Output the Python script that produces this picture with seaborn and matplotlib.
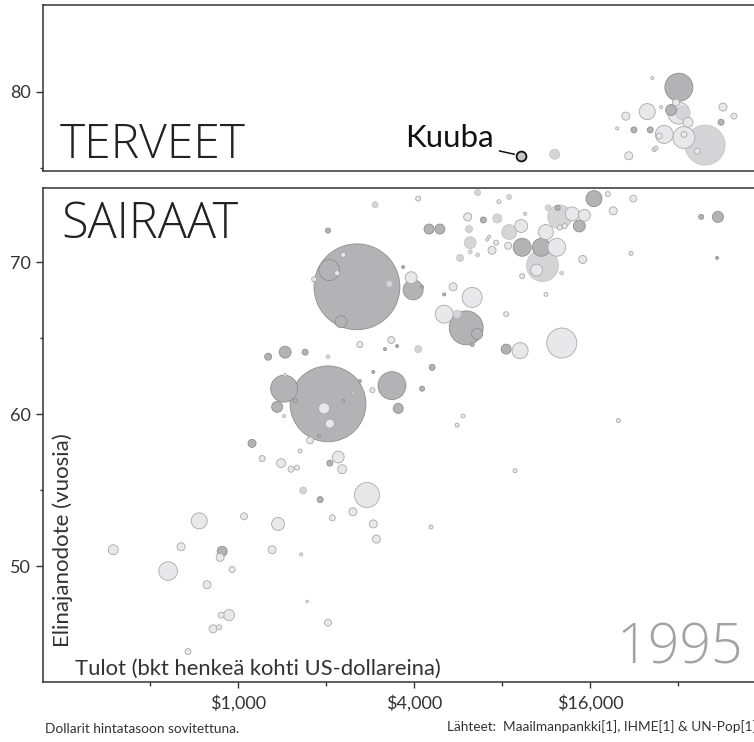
import pandas as pd
import matplotlib
matplotlib.use("Agg")
import matplotlib.pyplot as plt
from matplotlib.ticker import NullFormatter
import seaborn as sns

# --- data (GDP per capita $, life expectancy, population in millions) ---
top_gdp = [32200, 26100, 31500, 25100, 30300, 32200, 33300, 34600, 21200, 28000, 19800, 22600, 25700,
           28700, 27600, 33500, 33500, 39600, 37200, 26900, 26500, 21700, 45600, 49700, 44900, 12100]
top_life = [80.3, 80.9, 79.3, 78.7, 78.8, 78.6, 78.6, 78.0, 78.4, 79.0, 77.6, 77.5, 77.5,
            77.2, 77.1, 77.0, 77.2, 76.5, 76.1, 76.3, 76.2, 75.8, 79.0, 78.4, 78.0, 75.9]
top_pop = [122, 1.4, 7.6, 40, 19, 75, 30, 15.5, 10, 1.4, 1.4, 5.6, 5.6,
           50, 5.6, 75, 5.6, 248, 5.6, 2.5, 2.5, 10, 10, 5.6, 5.6, 15.5]
top_shade = ["D", "L", "L", "L", "D", "L", "M", "L", "L", "L", "L", "D", "D",
             "L", "L", "L", "L", "M", "L", "L", "L", "L", "L", "L", "D", "M"]

cuba_gdp = 9300
cuba_life = 75.8
cuba_pop = 15

bot_gdp = [6600, 7800, 8460, 16500, 18400, 19200, 6100, 6900, 7700, 4500,
           4900, 6170, 9590, 11500, 12400, 12600, 13900, 15300, 14700, 12600,
           13100, 8460, 9300, 11300, 7220, 7110, 6220, 7630, 7390, 8390,
           9370, 10900, 12300, 6220, 6600, 5750, 11000, 10500, 15100, 9370,
           12800, 11300, 5440, 5070, 6320, 2940, 4130, 3910, 3970, 3670,
           4260, 5070, 5610, 6030, 6570, 6320, 8260, 12800, 8260, 9220,
           3340, 3180, 3500, 4130, 4610, 3360, 4260, 3530, 2900, 2880,
           5880, 5610, 20000, 22500, 22100, 38400, 43800, 43500, 2030, 2550,
           2290, 2050, 2180, 1820, 3290, 2440, 2250, 2610, 1267, 1448,
           1695, 2030, 2030, 1437, 1360, 1448, 1567, 1437, 1969, 2060,
           2290, 2470, 1892, 2610, 1116, 1763, 1630, 1208, 1403, 1518,
           1591, 2060, 2200, 2270, 1669, 1908, 2100, 1048, 736, 1370,
           374, 638, 882, 868, 1307, 1643, 576, 954, 783, 1722,
           931, 875, 821, 861, 2030, 674, 2760, 2470, 2900, 2970,
           4570, 8860]
bot_life = [74.6, 74.0, 74.3, 74.2, 74.5, 73.4, 73.0, 72.8, 72.9, 72.2,
            72.2, 72.2, 73.2, 73.6, 73.6, 73.0, 73.2, 73.1, 72.4, 72.3,
            72.4, 72.0, 72.4, 72.0, 71.7, 71.5, 71.3, 71.3, 70.8, 71.1,
            71.0, 71.0, 71.0, 70.7, 70.5, 70.3, 69.8, 69.5, 70.2, 69.1,
            69.3, 67.9, 68.4, 67.9, 67.7, 73.8, 74.2, 69.0, 68.2, 69.7,
            68.4, 66.6, 66.6, 65.7, 65.3, 64.6, 66.6, 64.7, 64.3, 64.2,
            64.9, 64.3, 64.5, 64.3, 63.1, 61.9, 61.7, 60.4, 62.8, 61.6,
            59.9, 59.3, 59.6, 74.2, 70.6, 73.0, 73.0, 70.3, 72.1, 68.4,
            70.5, 69.5, 69.3, 68.9, 68.6, 67.2, 66.1, 64.6, 63.8, 64.1,
            64.1, 63.8, 60.7, 61.7, 60.5, 62.6, 60.9, 59.9, 60.4, 59.4,
            60.9, 61.4, 58.6, 62.2, 58.1, 58.3, 57.6, 57.1, 56.8, 56.4,
            56.5, 56.8, 57.2, 56.4, 55.0, 54.4, 53.2, 53.3, 53.0, 52.8,
            51.1, 51.3, 51.0, 50.6, 51.1, 50.8, 49.7, 49.8, 48.8, 47.7,
            46.8, 46.8, 45.9, 46.0, 46.3, 44.4, 54.7, 53.6, 52.8, 51.8,
            52.6, 56.3]
bot_pop = [5.6, 2.5, 3.9, 40, 3.9, 10, 10, 5.6, 12.6, 15.5,
           15.5, 7.6, 1.4, 5.6, 3.9, 89, 30, 22, 22, 3.9,
           3.9, 35, 26, 35, 1.4, 1.4, 22, 3.9, 10, 7.6,
           50, 50, 50, 2.5, 2.5, 7.6, 159, 22, 10, 3.9,
           2.5, 2.5, 10, 1.4, 62, 5.6, 3.9, 22, 62, 1.4,
           1.4, 50, 10, 179, 19, 2.5, 3.9, 140, 15.5, 40,
           7.6, 1.4, 1.4, 7.6, 5.6, 121, 3.9, 15.5, 1.4, 3.9,
           2.5, 2.5, 2.5, 7.6, 2.5, 3.9, 19, 1.4, 3.9, 1146,
           3.9, 68, 3.9, 3.9, 5.6, 0.6, 22, 5.6, 7.6, 22,
           5.6, 1.4, 895, 113, 19, 1.4, 2.5, 1.4, 19, 12.6,
           1.4, 1.0, 1.4, 1.4, 10, 7.6, 2.5, 5.6, 12.6, 5.6,
           3.9, 5.6, 22, 12.6, 7.6, 5.6, 5.6, 7.6, 40, 26,
           15.5, 10, 15.5, 10, 10, 1.4, 54, 5.6, 10, 1.0,
           19, 5.6, 10, 3.9, 7.6, 5.6, 97, 10, 10, 10,
           2.5, 2.5]
bot_shade = ["M", "L", "M", "D", "L", "L", "L", "D", "M", "D",
             "D", "M", "L", "M", "D", "M", "L", "L", "D", "L",
             "L", "M", "L", "L", "L", "L", "M", "L", "L", "L",
             "D", "D", "L", "M", "M", "M", "M", "L", "L", "L",
             "M", "L", "L", "D", "L", "M", "L", "L", "D", "D",
             "D", "L", "M", "D", "D", "D", "L", "L", "D", "L",
             "L", "D", "D", "M", "D", "D", "D", "D", "D", "L",
             "L", "L", "L", "L", "L", "D", "D", "D", "D", "D",
             "L", "D", "L", "L", "M", "L", "D", "L", "D", "D",
             "D", "L", "D", "D", "D", "L", "D", "L", "L", "L",
             "D", "L", "D", "D", "D", "L", "L", "L", "L", "L",
             "L", "D", "L", "L", "M", "D", "L", "L", "L", "L",
             "L", "L", "D", "L", "L", "L", "L", "L", "L", "L",
             "L", "L", "L", "L", "L", "L", "L", "L", "L", "L",
             "L", "L"]

x_ticks = [1000, 4000, 16000]
x_tick_labels = ["$1,000", "$4,000", "$16,000"]
x_minor = [500, 2000, 8000, 32000]

fills = {"D": "#b3b3b5", "M": "#d5d5d7", "L": "#e8e8ea"}
edges = {"D": "#8f8f8f", "M": "#c6c6c6", "L": "#a9a9a9"}

sns.set_theme(style="white")
plt.rcParams["font.family"] = ["Lato", "DejaVu Sans"]
ink = "#333333"
thin = ["Open Sans", "DejaVu Sans"]

W, H = 754, 742
fig = plt.figure(figsize=(W / 100, H / 100), dpi=100)
ax_top = fig.add_axes([43 / W, 1 - 171 / H, 1 - 43 / W, 166 / H])
ax_bot = fig.add_axes([43 / W, 1 - 682 / H, 1 - 43 / W, 494 / H])


def bubbles(ax, gdp, life, pop, shade):
    df = pd.DataFrame({"gdp": gdp, "life": life, "pop": pop, "shade": shade})
    df = df.sort_values("pop", ascending=False).reset_index(drop=True)
    sns.scatterplot(data=df, x="gdp", y="life", hue="shade", palette=fills,
                    size="pop", sizes=(0, 4000), size_norm=(0, 1200),
                    edgecolor=[edges[s] for s in df["shade"]], linewidth=0.6,
                    legend=False, ax=ax)


bubbles(ax_top, top_gdp, top_life, top_pop, top_shade)
bubbles(ax_bot, bot_gdp, bot_life, bot_pop, bot_shade)
sns.scatterplot(x=[cuba_gdp], y=[cuba_life], s=cuba_pop * 3.33, color="#c4c4c6",
                edgecolor="#111111", linewidth=1.3, ax=ax_top, legend=False, zorder=5)
ax_top.annotate("Kuuba", xy=(cuba_gdp, cuba_life), xytext=(-20, 6), textcoords="offset points",
                ha="right", va="baseline", fontsize=22.5, color="#111111",
                arrowprops=dict(arrowstyle="-", color="#111111", lw=1.1,
                                shrinkA=2, shrinkB=5, relpos=(1.0, 0.1)))

for ax in (ax_top, ax_bot):
    ax.set_xscale("log", base=2)
    ax.set_xlim(215, 58200)
    ax.set_xlabel("")
    ax.set_ylabel("")
    ax.spines["right"].set_visible(False)
    for side in ("left", "top", "bottom"):
        ax.spines[side].set_color(ink)
        ax.spines[side].set_linewidth(1.1)
    ax.tick_params(which="major", length=5, width=1, color=ink, labelsize=13,
                   labelcolor=ink, pad=4, left=True, bottom=True)
    ax.tick_params(which="minor", length=2.5, width=1, color=ink, left=True, bottom=True)

ax_top.set_ylim(74.8, 85.7)
ax_top.set_yticks([80])
ax_top.set_yticks([75], minor=True)
ax_top.set_xticks([])
ax_top.set_xticks([], minor=True)

ax_bot.set_ylim(42.4, 74.9)
ax_bot.set_yticks([50, 60, 70])
ax_bot.set_yticks([55, 65], minor=True)
ax_bot.set_xticks(x_ticks)
ax_bot.set_xticklabels(x_tick_labels)
ax_bot.set_xticks(x_minor, minor=True)
ax_bot.xaxis.set_minor_formatter(NullFormatter())
ax_bot.tick_params(axis="x", which="major", length=4.5, pad=5)
ax_bot.tick_params(axis="x", which="minor", length=3)

ax_top.text(0.024, 0.078, "TERVEET", transform=ax_top.transAxes, fontsize=34.5,
            family=thin, fontweight=300, color="#222222", ha="left", va="baseline")
ax_bot.text(0.026, 0.899, "SAIRAAT", transform=ax_bot.transAxes, fontsize=35,
            family=thin, fontweight=300, color="#222222", ha="left", va="baseline")
ax_bot.text(0.985, 0.038, "1995", transform=ax_bot.transAxes, fontsize=40,
            family=thin, fontweight=300, color="#a3a3a3", ha="right", va="baseline")
ax_bot.text(0.045, 0.014, "Tulot (bkt henkeä kohti US-dollareina)", transform=ax_bot.transAxes,
            fontsize=15.8, color=ink, ha="left", va="baseline")
ax_bot.text(0.028, 0.071, "Elinajanodote (vuosia)", transform=ax_bot.transAxes,
            fontsize=16, color=ink, rotation=90, ha="center", va="bottom")

fig.text(45 / W, 1 - 729 / H, "Dollarit hintatasoon sovitettuna.", fontsize=9.8,
         color=ink, ha="left", va="center")
fig.text(447 / W, 1 - 727 / H, "Lähteet:  Maailmanpankki[1], IHME[1] & UN-Pop[1]", fontsize=9.8,
         color=ink, ha="left", va="center")

fig.savefig("out.png", dpi=100)
